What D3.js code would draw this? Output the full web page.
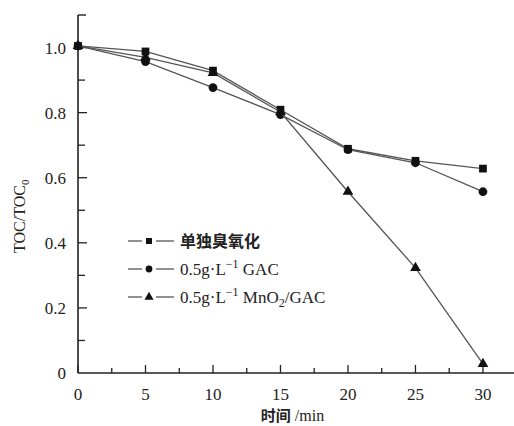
<!DOCTYPE html>
<html>
<head>
<meta charset="utf-8">
<script src="https://cdn.jsdelivr.net/npm/d3@7"></script>
<style>
  body { margin: 0; background: #fff; }
  text { font-family: "Liberation Serif", "DejaVu Serif", serif; fill: #222; }
  .cjk { font-family: "Noto Sans CJK SC", sans-serif; font-weight: bold; }
</style>
</head>
<body>
<div id="chart"></div>
<script>
// Data
const times = [0, 5, 10, 15, 20, 25, 30];
const ozoneOnly = [1.005, 0.988, 0.929, 0.809, 0.689, 0.652, 0.628];
const gac = [1.005, 0.957, 0.877, 0.794, 0.686, 0.646, 0.557];
const mno2Gac = [1.005, 0.970, 0.922, 0.802, 0.557, 0.323, 0.028];
const seriesNames = ["单独臭氧化", "0.5g·L⁻¹ GAC", "0.5g·L⁻¹ MnO₂/GAC"];
const xTicks = [0, 5, 10, 15, 20, 25, 30];
const yTicks = [0, 0.2, 0.4, 0.6, 0.8, 1.0];

const W = 514, H = 426;
const margin = { top: 15, right: 0, bottom: 53, left: 78 };

const svg = d3.select("#chart").append("svg")
    .attr("width", W)
    .attr("height", H);

const x = d3.scaleLinear().domain([0, 32.3]).range([margin.left, W - margin.right]);
const y = d3.scaleLinear().domain([0, 1.1]).range([H - margin.bottom, margin.top]);

// Axes lines
const axisColor = "#222";
svg.append("line")
    .attr("x1", x(0)).attr("x2", x(32.3))
    .attr("y1", y(0)).attr("y2", y(0))
    .attr("stroke", axisColor).attr("stroke-width", 1.6);
svg.append("line")
    .attr("x1", x(0)).attr("x2", x(0))
    .attr("y1", y(0)).attr("y2", y(1.1))
    .attr("stroke", axisColor).attr("stroke-width", 1.6);
// little cap at top of y axis
svg.append("line")
    .attr("x1", x(0)).attr("x2", x(0) + 8)
    .attr("y1", y(1.1)).attr("y2", y(1.1))
    .attr("stroke", axisColor).attr("stroke-width", 1.4);

// X ticks (inward), minor every 2.5
d3.range(0, 31, 2.5).forEach(t => {
    const major = t % 5 === 0;
    svg.append("line")
        .attr("x1", x(t)).attr("x2", x(t))
        .attr("y1", y(0)).attr("y2", y(0) - (major ? 8 : 5))
        .attr("stroke", axisColor).attr("stroke-width", 1.3);
});
svg.selectAll(".xlab").data(xTicks).enter().append("text")
    .attr("class", "xlab")
    .attr("x", d => x(d))
    .attr("y", y(0) + 27)
    .attr("text-anchor", "middle")
    .style("font-size", "17px")
    .text(d => d);

// Y ticks (inward), minor every 0.1
d3.range(1, 11).forEach(i => {
    const v = i / 10;
    const major = i % 2 === 0;
    svg.append("line")
        .attr("x1", x(0)).attr("x2", x(0) + (major ? 9 : 7))
        .attr("y1", y(v)).attr("y2", y(v))
        .attr("stroke", axisColor).attr("stroke-width", 1.3);
});
svg.selectAll(".ylab").data(yTicks).enter().append("text")
    .attr("class", "ylab")
    .attr("x", x(0) - 12)
    .attr("y", d => y(d) + 6)
    .attr("text-anchor", "end")
    .style("font-size", "17px")
    .text(d => d === 0 ? "0" : d.toFixed(1));

// Axis titles
const xt = svg.append("text")
    .attr("x", x(15) + 12)
    .attr("y", H - 5)
    .attr("text-anchor", "middle")
    .style("font-size", "16px");
xt.append("tspan").attr("class", "cjk").style("font-size", "15px").text("时间");
xt.append("tspan").text(" /min");

const yt = svg.append("text")
    .attr("transform", `translate(25, ${y(0.5) + 6}) rotate(-90)`)
    .attr("text-anchor", "middle")
    .style("font-size", "16px");
yt.append("tspan").text("TOC/TOC");
yt.append("tspan").attr("dy", 4).style("font-size", "11px").text("0");

// Series
const series = [
    { name: seriesNames[0], values: ozoneOnly, shape: d3.symbolSquare, size: 60 },
    { name: seriesNames[1], values: gac, shape: d3.symbolCircle, size: 60 },
    { name: seriesNames[2], values: mno2Gac, shape: d3.symbolTriangle, size: 50 }
];

const line = d3.line()
    .x((d, i) => x(times[i]))
    .y(d => y(d));

series.forEach(s => {
    svg.append("path")
        .datum(s.values)
        .attr("d", line)
        .attr("fill", "none")
        .attr("stroke", "#555")
        .attr("stroke-width", 1.3);
    svg.selectAll(null).data(s.values).enter().append("path")
        .attr("transform", (d, i) => `translate(${x(times[i])},${y(d)})`)
        .attr("d", d3.symbol().type(s.shape).size(s.size))
        .attr("fill", "#111");
});

// Legend
const legend = svg.append("g").attr("transform", "translate(128, 241)");
series.forEach((s, i) => {
    const g = legend.append("g").attr("transform", `translate(0, ${i * 28})`);
    g.append("line").attr("x1", 0).attr("x2", 14).attr("y1", 0).attr("y2", 0)
        .attr("stroke", "#555").attr("stroke-width", 1.3);
    g.append("line").attr("x1", 28).attr("x2", 46).attr("y1", 0).attr("y2", 0)
        .attr("stroke", "#555").attr("stroke-width", 1.3);
    g.append("path").attr("transform", "translate(21,0)")
        .attr("d", d3.symbol().type(s.shape).size(36))
        .attr("fill", "#111");
    const t = g.append("text").attr("x", 52).attr("y", 6).style("font-size", "17px");
    if (i === 0) {
        t.attr("class", "cjk").style("font-size", "16px").text(s.name);
    } else {
        t.append("tspan").text("0.5g·L");
        t.append("tspan").attr("dy", -7).style("font-size", "12px").text("−1");
        if (i === 1) {
            t.append("tspan").attr("dy", 7).text(" GAC");
        } else {
            t.append("tspan").attr("dy", 7).text(" MnO");
            t.append("tspan").attr("dy", 4).style("font-size", "12px").text("2");
            t.append("tspan").attr("dy", -4).text("/GAC");
        }
    }
});
</script>
</body>
</html>
